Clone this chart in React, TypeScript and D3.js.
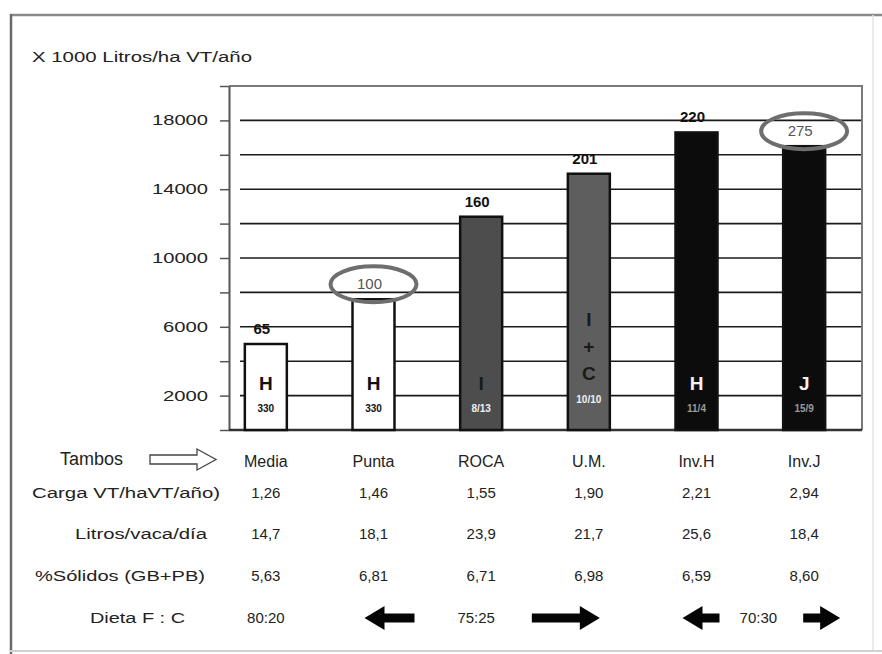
import { useEffect, useRef } from "react";
import * as d3 from "d3";

const tambos = ["Media", "Punta", "ROCA", "U.M.", "Inv.H", "Inv.J"];
const litrosHa = [5000, 7600, 12400, 14900, 17300, 16500];
const indice = [65, 100, 160, 201, 220, 275];
const destacados = ["Punta", "Inv.J"];
const raza = ["H", "H", "I", "I+C", "H", "J"];
const partos = ["330", "330", "8/13", "10/10", "11/4", "15/9"];
const colores = ["#ffffff", "#ffffff", "#4d4d4d", "#5e5e5e", "#0c0c0c", "#0c0c0c"];

const carga = ["1,26", "1,46", "1,55", "1,90", "2,21", "2,94"];
const litrosVaca = ["14,7", "18,1", "23,9", "21,7", "25,6", "18,4"];
const solidos = ["5,63", "6,81", "6,71", "6,98", "6,59", "8,60"];
const dietaRatios = ["80:20", "75:25", "70:30"];

const yTicks = [0, 2000, 4000, 6000, 8000, 10000, 12000, 14000, 16000, 18000, 20000];
const yLabels = [2000, 6000, 10000, 14000, 18000];

const W = 882;
const H = 654;
const FONT = "'Liberation Sans', Arial, sans-serif";

const App = () => {
  const ref = useRef<SVGSVGElement>(null);

  useEffect(() => {
    const svg = d3.select(ref.current);
    svg.selectAll("*").remove();

    const x = d3
      .scaleBand<string>()
      .domain(tambos)
      .range([212, 858])
      .paddingInner(0.61)
      .paddingOuter(0.305);
    const y = d3.scaleLinear().domain([0, 20000]).range([430, 86]);
    const cx = (t: string) => (x(t) as number) + x.bandwidth() / 2;

    // outer frame
    svg.append("rect").attr("width", W).attr("height", H).attr("fill", "#fff");
    svg.append("line").attr("x1", 10).attr("x2", W).attr("y1", 15).attr("y2", 15)
      .attr("stroke", "#8a8a8a").attr("stroke-width", 2.5);
    svg.append("line").attr("x1", 11).attr("x2", 11).attr("y1", 14).attr("y2", H)
      .attr("stroke", "#6a6a6a").attr("stroke-width", 2.5);
    svg.append("line").attr("x1", 10).attr("x2", W).attr("y1", 651).attr("y2", 651)
      .attr("stroke", "#d0d0d0").attr("stroke-width", 2);
    svg.append("line").attr("x1", 873).attr("x2", 873).attr("y1", 15).attr("y2", 650)
      .attr("stroke", "#e4e4e4").attr("stroke-width", 1.5);

    svg.append("text")
      .attr("x", 32).attr("y", 62)
      .attr("font-family", FONT).attr("font-size", 14).attr("fill", "#222")
      .attr("textLength", 220).attr("lengthAdjust", "spacingAndGlyphs")
      .text("X 1000 Litros/ha VT/año");

    // gridlines
    svg.append("g")
      .selectAll("line")
      .data(yTicks.filter((d) => d > 0 && d < 20000))
      .join("line")
      .attr("x1", 240).attr("x2", 862)
      .attr("y1", (d) => y(d)).attr("y2", (d) => y(d))
      .attr("stroke", "#1a1a1a").attr("stroke-width", 1.6);

    // plot box top / right
    svg.append("path")
      .attr("d", `M229,${y(20000)}H862V${y(0)}`)
      .attr("fill", "none").attr("stroke", "#7a7a7a").attr("stroke-width", 2);

    // y axis
    const yAxis = svg.append("g")
      .attr("transform", "translate(229,0)")
      .call(
        d3.axisLeft(y)
          .tickValues(yTicks)
          .tickSize(9)
          .tickSizeOuter(0)
          .tickPadding(12)
          .tickFormat((d) => (yLabels.includes(+d) ? String(d) : ""))
      );
    yAxis.select(".domain").attr("stroke", "#555").attr("stroke-width", 2);
    yAxis.selectAll(".tick line").attr("stroke", "#555").attr("stroke-width", 1.5);
    yAxis.selectAll(".tick text")
      .attr("font-family", FONT).attr("font-size", 14).attr("fill", "#222")
      .attr("textLength", (d) => (String(d).length > 4 ? 56 : 45))
      .attr("lengthAdjust", "spacingAndGlyphs");

    // x axis baseline
    const xAxis = svg.append("g")
      .attr("transform", `translate(0,${y(0)})`)
      .call(d3.axisBottom(x).tickSize(0).tickFormat(() => ""));
    xAxis.select(".domain").attr("d", `M229,0H862`).attr("stroke", "#333").attr("stroke-width", 2.5);

    // bars
    const bars = svg.append("g");
    bars.selectAll("rect")
      .data(tambos)
      .join("rect")
      .attr("x", (d) => x(d) as number)
      .attr("width", x.bandwidth())
      .attr("y", (d, i) => y(litrosHa[i]))
      .attr("height", (d, i) => y(0) - y(litrosHa[i]))
      .attr("fill", (d, i) => colores[i])
      .attr("stroke", "#111")
      .attr("stroke-width", 2.5);

    // value labels
    svg.append("g")
      .selectAll("text")
      .data(tambos)
      .join("text")
      .attr("x", (d) => cx(d) - 4)
      .attr("y", (d, i) => y(litrosHa[i]) - 10)
      .attr("text-anchor", "middle")
      .attr("font-family", FONT).attr("font-size", 15)
      .attr("fill", (d) => (destacados.includes(d) ? "#555" : "#111"))
      .attr("font-weight", (d) => (destacados.includes(d) ? "normal" : "bold"))
      .text((d, i) => indice[i]);

    // highlight ellipses
    svg.append("g")
      .selectAll("ellipse")
      .data(destacados)
      .join("ellipse")
      .attr("cx", (d) => cx(d))
      .attr("cy", (d) => y(litrosHa[tambos.indexOf(d)]) - 15)
      .attr("rx", 43).attr("ry", 18)
      .attr("fill", "none").attr("stroke", "#6e6e6e").attr("stroke-width", 4);

    // breed letters inside bars
    tambos.forEach((t, i) => {
      const dark = i >= 4;
      const letters = raza[i] === "I+C" ? ["I", "+", "C"] : [raza[i]];
      const base = letters.length > 1 ? 380 : 390;
      const g = svg.append("g").attr("font-family", FONT).attr("text-anchor", "middle");
      letters.forEach((l, k) => {
        g.append("text")
          .attr("x", cx(t))
          .attr("y", base - (letters.length - 1 - k) * 27)
          .attr("font-size", 19)
          .attr("font-weight", "bold")
          .attr("fill", dark ? "#f2f2f2" : i >= 2 ? "#1a1a1a" : "#111")
          .text(l);
      });
      g.append("text")
        .attr("x", cx(t))
        .attr("y", letters.length > 1 ? 403 : 412)
        .attr("font-size", 10)
        .attr("font-weight", "bold")
        .attr("fill", dark ? "#9a9a9a" : i >= 2 ? "#f0f0f0" : "#111")
        .text(partos[i]);
    });

    // table
    const table = svg.append("g").attr("font-family", FONT).attr("fill", "#222");
    table.append("text").attr("x", 60).attr("y", 465).attr("font-size", 18).text("Tambos");
    table.append("path")
      .attr("d", "M150,455H197V449L216,459.5L197,470V464H150Z")
      .attr("fill", "#fff").attr("stroke", "#444").attr("stroke-width", 1.3);

    const rowLabels = [
      { text: "Carga VT/haVT/año)", y: 498, x: 32, len: 188 },
      { text: "Litros/vaca/día", y: 539, x: 75, len: 132 },
      { text: "%Sólidos (GB+PB)", y: 581, x: 35, len: 170 },
      { text: "Dieta F : C", y: 623, x: 90, len: 95 },
    ];
    rowLabels.forEach((r) => {
      table.append("text").attr("x", r.x).attr("y", r.y).attr("font-size", 14)
        .attr("textLength", r.len).attr("lengthAdjust", "spacingAndGlyphs").text(r.text);
    });

    const rows = [
      { vals: tambos, y: 467, size: 16 },
      { vals: carga, y: 498, size: 15 },
      { vals: litrosVaca, y: 539, size: 15 },
      { vals: solidos, y: 581, size: 15 },
    ];
    rows.forEach((r) => {
      table.append("g")
        .selectAll("text")
        .data(r.vals)
        .join("text")
        .attr("x", (d, i) => cx(tambos[i]))
        .attr("y", r.y)
        .attr("text-anchor", "middle")
        .attr("font-size", r.size)
        .text((d) => d);
    });

    // dieta row with arrows
    const dy = 623;
    const dietaX = [cx("Media"), cx("ROCA") - 5, (cx("Inv.H") + cx("Inv.J")) / 2 + 8];
    table.append("g")
      .selectAll("text")
      .data(dietaRatios)
      .join("text")
      .attr("x", (d, i) => dietaX[i])
      .attr("y", dy)
      .attr("text-anchor", "middle")
      .attr("font-size", 15)
      .text((d) => d);

    const arrow = (x0: number, x1: number, dir: number) => {
      const ay = dy - 5;
      const head = 20;
      const sh = 4.5;
      const hh = 12;
      const p = d3.path();
      if (dir > 0) {
        p.moveTo(x0, ay - sh);
        p.lineTo(x1 - head, ay - sh);
        p.lineTo(x1 - head, ay - hh);
        p.lineTo(x1, ay);
        p.lineTo(x1 - head, ay + hh);
        p.lineTo(x1 - head, ay + sh);
        p.lineTo(x0, ay + sh);
      } else {
        p.moveTo(x1, ay - sh);
        p.lineTo(x0 + head, ay - sh);
        p.lineTo(x0 + head, ay - hh);
        p.lineTo(x0, ay);
        p.lineTo(x0 + head, ay + hh);
        p.lineTo(x0 + head, ay + sh);
        p.lineTo(x1, ay + sh);
      }
      p.closePath();
      svg.append("path").attr("d", p.toString()).attr("fill", "#050505");
    };
    arrow(cx("Punta") - 9, cx("Punta") + 41, -1);
    arrow(cx("U.M.") - 57, cx("U.M.") + 11, 1);
    arrow(cx("Inv.H") - 14, cx("Inv.H") + 23, -1);
    arrow(cx("Inv.J") - 1, cx("Inv.J") + 36, 1);
  });

  return (
    <svg
      ref={ref}
      width={W}
      height={H}
      style={{ position: "absolute", left: 0, top: 0, background: "#fff" }}
    />
  );
};

export default App;
